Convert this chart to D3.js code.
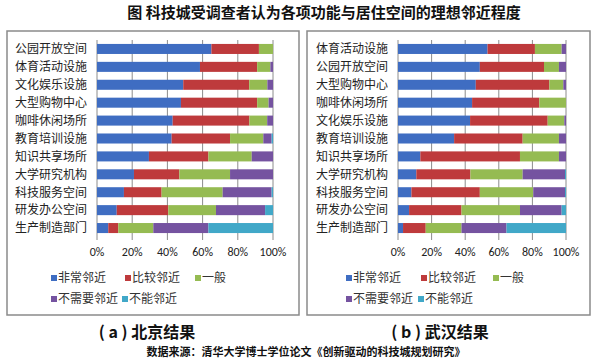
<!DOCTYPE html>
<html>
<head>
<meta charset="utf-8">
<script src="https://cdn.jsdelivr.net/npm/d3@7"></script>
<style>
  body { margin: 0; background: #fff; }
  text { font-family: "Noto Sans CJK SC", "Noto Sans", sans-serif; }
</style>
</head>
<body>
<svg id="chart" width="600" height="362"></svg>
<script>
// series (legend order)
const seriesNames = ["非常邻近", "比较邻近", "一般", "不需要邻近", "不能邻近"];
const seriesColors = ["#3f6dc2", "#be3a3c", "#95bb52", "#7553a0", "#41a8c8"];
const tickLabels = ["0%", "20%", "40%", "60%", "80%", "100%"];

// Beijing
const catsBJ = ["公园开放空间", "体育活动设施", "文化娱乐设施", "大型购物中心", "咖啡休闲场所",
    "教育培训设施", "知识共享场所", "大学研究机构", "科技服务空间", "研发办公空间", "生产制造部门"];
const bjVery = [65, 58.5, 49, 47.7, 43, 42.4, 29.5, 21, 15.3, 11.2, 6.4];
const bjFair = [27, 32.5, 37.5, 43.3, 43.6, 33.2, 33.8, 25.8, 21.4, 29.3, 5.7];
const bjNormal = [8, 7.5, 10.3, 6.5, 10.1, 18.9, 24.6, 28.8, 34.7, 27.1, 19.9];
const bjNoNeed = [0, 1.5, 3.2, 2.5, 3.3, 4.7, 12.1, 24.4, 27.8, 27.9, 31.3];
const bjCannot = [0, 0, 0, 0, 0, 0.8, 0, 0, 0.8, 4.5, 36.7];

// Wuhan
const catsWH = ["体育活动设施", "公园开放空间", "大型购物中心", "咖啡休闲场所", "文化娱乐设施",
    "教育培训设施", "知识共享场所", "大学研究机构", "科技服务空间", "研发办公空间", "生产制造部门"];
const whVery = [53.3, 48.7, 46.3, 44.1, 42.9, 33.4, 13.3, 10.9, 8, 6.6, 3];
const whFair = [28.2, 38.2, 43.8, 40, 46.2, 40.8, 59.3, 32.2, 40.7, 31.2, 13.5];
const whNormal = [15.9, 8.9, 8.3, 15.9, 9.9, 21.6, 23.2, 31.1, 31.8, 34.8, 21.3];
const whNoNeed = [2.6, 4.2, 1.6, 0, 1, 4.2, 4.2, 25.2, 18.9, 24.8, 26.8];
const whCannot = [0, 0, 0, 0, 0, 0, 0, 0.6, 0.6, 2.6, 35.4];

const svg = d3.select("#chart");

// title
svg.append("text")
    .attr("x", 324).attr("y", 18)
    .attr("text-anchor", "middle")
    .style("font-size", "15px").style("font-weight", "bold").style("fill", "#111")
    .text("图 科技城受调查者认为各项功能与居住空间的理想邻近程度");

function drawPanel(opt) {
    let rows = opt.cats.map((c, i) => {
        let r = { cat: c };
        seriesNames.forEach((s, j) => r[s] = opt.values[j][i]);
        return r;
    });

    // box
    svg.append("rect")
        .attr("x", opt.box[0]).attr("y", opt.box[1])
        .attr("width", opt.box[2]).attr("height", opt.box[3])
        .style("fill", "#fff").style("stroke", "#8a8a8a").style("stroke-width", 1.5);

    let x = d3.scaleLinear().domain([0, 100]).range([opt.x0, opt.x1]);
    let y = d3.scaleBand().domain(opt.cats).range([40, 237]).paddingInner(0.44).paddingOuter(0.22);

    let g = svg.append("g");

    // gridlines
    g.selectAll(".grid")
        .data([20, 40, 60, 80, 100])
        .enter().append("line")
        .attr("x1", d => x(d)).attr("x2", d => x(d))
        .attr("y1", 40).attr("y2", 240)
        .style("stroke", "#8c8c8c").style("stroke-width", 1);

    // category axis line
    g.append("line")
        .attr("x1", x(0)).attr("x2", x(0)).attr("y1", 40).attr("y2", 240)
        .style("stroke", "#8c8c8c");

    // bars
    let stack = d3.stack().keys(seriesNames);
    let layers = stack(rows);
    g.selectAll(".layer")
        .data(layers)
        .enter().append("g")
        .style("fill", (d, i) => seriesColors[i])
        .selectAll("rect")
        .data(d => d)
        .enter().append("rect")
        .attr("x", d => x(d[0]))
        .attr("width", d => x(d[1]) - x(d[0]))
        .attr("y", d => y(d.data.cat))
        .attr("height", y.bandwidth());

    // category labels
    g.selectAll(".cat")
        .data(opt.cats)
        .enter().append("text")
        .attr("x", x(0) - 10)
        .attr("y", d => y(d) + y.bandwidth() / 2)
        .attr("dy", "0.36em")
        .attr("text-anchor", "end")
        .style("font-size", "12px").style("fill", "#222")
        .text(d => d);

    // x tick labels
    g.selectAll(".tick")
        .data(tickLabels)
        .enter().append("text")
        .attr("x", (d, i) => x(i * 20))
        .attr("y", 256)
        .attr("text-anchor", "middle")
        .style("font-size", "12px").style("fill", "#222")
        .style("font-family", "Carlito, 'Open Sans', sans-serif")
        .text(d => d);

    // legend
    let leg = svg.append("g");
    let items = leg.selectAll(".leg")
        .data(seriesNames)
        .enter().append("g")
        .attr("transform", (d, i) => "translate(" + opt.legend[i][0] + "," + opt.legend[i][1] + ")");
    items.append("rect")
        .attr("x", 0).attr("y", -3).attr("width", 6).attr("height", 6)
        .style("fill", (d, i) => seriesColors[i]);
    items.append("text")
        .attr("x", 7).attr("dy", "0.36em")
        .style("font-size", "12px").style("fill", "#333")
        .text(d => d);

    // caption
    svg.append("text")
        .attr("x", opt.caption[0]).attr("y", opt.caption[1])
        .attr("text-anchor", "middle")
        .style("font-size", "16px").style("font-weight", "bold").style("fill", "#111")
        .text(opt.captionText);
}

drawPanel({
    cats: catsBJ,
    values: [bjVery, bjFair, bjNormal, bjNoNeed, bjCannot],
    box: [7, 31, 292, 284],
    x0: 97, x1: 273,
    legend: [[51, 278], [125, 278], [195, 278], [51, 299], [122, 299]],
    caption: [147, 338],
    captionText: "( a ) 北京结果"
});

drawPanel({
    cats: catsWH,
    values: [whVery, whFair, whNormal, whNoNeed, whCannot],
    box: [307, 31, 283, 284],
    x0: 398, x1: 566,
    legend: [[346, 278], [421, 278], [493, 278], [346, 299], [418, 299]],
    caption: [440, 338],
    captionText: "( b ) 武汉结果"
});

// source note
svg.append("text")
    .attr("x", 306).attr("y", 356)
    .attr("text-anchor", "middle")
    .style("font-size", "11px").style("font-weight", "bold").style("fill", "#111")
    .text("数据来源：清华大学博士学位论文《创新驱动的科技城规划研究》");
</script>
</body>
</html>
